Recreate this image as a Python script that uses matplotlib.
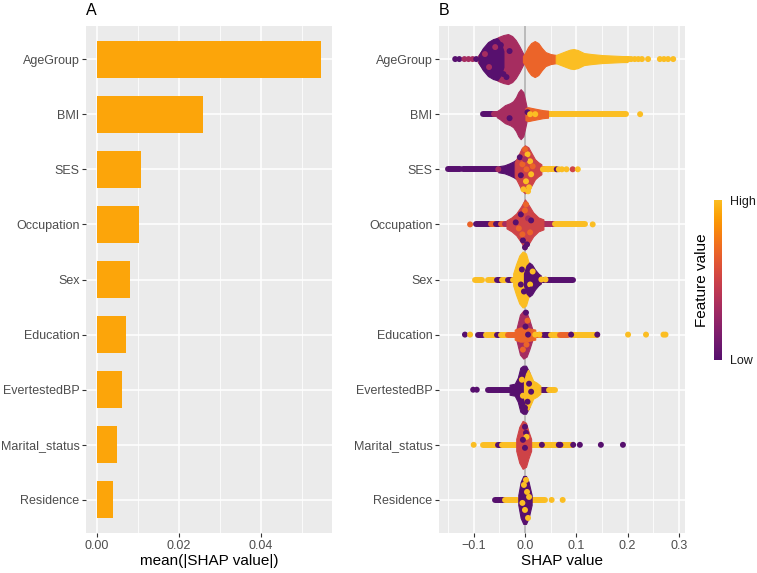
import numpy as np
import matplotlib
matplotlib.use("Agg")
import matplotlib.pyplot as plt
from matplotlib.colors import ListedColormap

plt.rcParams['font.family'] = ['Liberation Sans', 'DejaVu Sans']

# ---------------- data ----------------
features = ["AgeGroup", "BMI", "SES", "Occupation", "Sex", "Education",
            "EvertestedBP", "Marital_status", "Residence"]
mean_abs_shap = [0.0546, 0.0259, 0.0107, 0.0102, 0.0080, 0.0071, 0.0062, 0.0048, 0.0040]

# feature-value colour codes (0 = low, 1 = high)
P, M, R, O, Y = 0.0, 0.33, 0.5, 0.67, 1.0

# dense cores of the beeswarm: (colour, shap values, half-spread in px)
blobs = {
    "AgeGroup": [
        (M, [-0.092, -0.082, -0.072, -0.062, -0.052, -0.042, -0.033, -0.025, -0.018, -0.011, -0.006, -0.002],
            [3, 10, 15, 19, 22, 24, 25, 23, 19, 13, 8, 4]),
        (P, [-0.090, -0.082, -0.072, -0.062, -0.054, -0.047, -0.042], [4, 11, 17, 20, 21, 16, 8]),
        (O, [-0.004, 0.0, 0.006, 0.012, 0.019, 0.026, 0.033, 0.040, 0.050, 0.062],
            [3, 6, 12, 16, 18, 16, 11, 7, 5, 4]),
        (Y, [0.060, 0.070, 0.080, 0.088, 0.095, 0.103, 0.115, 0.130, 0.150, 0.170, 0.190, 0.200],
            [4, 6, 8, 9.5, 10, 9, 6, 5, 4, 3.5, 3, 3]),
    ],
    "BMI": [
        (M, [-0.055, -0.049, -0.039, -0.029, -0.023, -0.0175, -0.013, -0.0084, -0.0032, 0.0008, 0.0045],
            [3, 5, 9, 11, 13, 17, 22, 25, 22, 13, 4]),
        (O, [0.001, 0.006, 0.015, 0.025, 0.035, 0.045], [6, 7, 6, 5, 4, 3.5]),
    ],
    "SES": [
        (P, [-0.052, -0.040, -0.030, -0.022, -0.016], [3, 4, 6, 8, 10]),
        (R, [-0.020, -0.013, -0.0065, 0.0, 0.0065, 0.013, 0.0195, 0.026, 0.032],
            [7, 14, 21, 24, 22, 16, 10, 7, 5]),
    ],
    "Occupation": [
        (R, [-0.036, -0.026, -0.017, -0.0075, 0.0, 0.0065, 0.016, 0.026, 0.036],
            [4, 7, 11, 18, 25, 20, 12, 7, 5]),
    ],
    "Sex": [
        (Y, [-0.023, -0.0175, -0.011, -0.0045, 0.002, 0.0065, 0.011], [6, 15, 24, 28, 26, 18, 8]),
        (P, [-0.002, 0.003, 0.0084, 0.0136, 0.0195, 0.026, 0.031], [6, 14, 17, 15, 10, 6, 4]),
    ],
    "Education": [
        (M, [-0.017, -0.0097, -0.0032, 0.0032, 0.0084, 0.014], [5, 20, 24, 22, 15, 6]),
        (O, [-0.020, -0.010, 0.0, 0.010, 0.020], [5, 7, 7, 6, 5]),
    ],
    "EvertestedBP": [
        (P, [-0.030, -0.020, -0.014, -0.009, -0.004, 0.002, 0.008, 0.013], [5, 6, 12, 22, 24, 24, 18, 8]),
        (Y, [-0.002, 0.002, 0.006, 0.011, 0.016, 0.023, 0.030], [8, 16, 20, 15, 9, 7, 4]),
    ],
    "Marital_status": [
        (R, [-0.017, -0.011, -0.0045, 0.002, 0.0065, 0.012], [6, 18, 24, 22, 14, 6]),
    ],
    "Residence": [
        (P, [-0.013, -0.0084, -0.0032, 0.002, 0.0071, 0.013], [5, 18, 24, 24, 18, 5]),
    ],
}

# runs of touching points along the row: (from, to, colour)
bands = {
    "AgeGroup": [(0.190, 0.203, Y)],
    "BMI": [(-0.081, -0.060, P), (-0.060, -0.050, M), (0.030, 0.045, Y), (0.045, 0.197, Y)],
    "SES": [(-0.150, -0.126, P), (-0.121, -0.055, P), (0.026, 0.040, O), (0.040, 0.058, Y)],
    "Occupation": [(-0.095, -0.068, P), (-0.066, -0.058, O), (-0.056, -0.048, P), (-0.046, -0.040, O),
                   (-0.038, -0.030, M), (0.030, 0.040, P), (0.040, 0.057, M), (0.058, 0.118, Y)],
    "Sex": [(-0.097, -0.083, Y), (-0.072, -0.060, Y), (-0.054, -0.047, P), (-0.045, -0.039, Y),
            (-0.033, -0.026, P), (-0.024, -0.016, Y), (0.028, 0.094, P)],
    "Education": [(-0.092, -0.082, P), (-0.075, -0.059, Y), (-0.054, -0.050, P), (-0.046, -0.036, Y),
                  (-0.033, -0.013, O), (0.013, 0.036, O), (0.038, 0.048, P), (0.051, 0.065, Y),
                  (0.068, 0.084, O), (0.094, 0.140, Y)],
    "EvertestedBP": [(-0.072, -0.015, P), (0.030, 0.045, P), (0.047, 0.058, Y)],
    "Marital_status": [(-0.082, -0.056, Y), (-0.053, -0.047, P), (-0.045, -0.015, Y), (0.012, 0.092, Y)],
    "Residence": [(-0.058, -0.040, P), (-0.038, -0.015, Y), (0.013, 0.039, Y)],
}

# single points on the row: (shap value, colour)
dots = {
    "AgeGroup": [(-0.136, P), (-0.128, P), (-0.118, M), (-0.110, M), (-0.102, M), (-0.095, P),
                 (0.207, Y), (0.214, Y), (0.221, Y), (0.228, Y), (0.240, Y),
                 (0.263, Y), (0.271, Y), (0.279, Y), (0.289, Y)],
    "BMI": [(0.010, Y), (0.020, Y), (0.038, O), (0.2245, Y)],
    "SES": [(-0.052, M), (0.035, Y), (0.045, Y), (0.062, P), (0.066, Y), (0.072, Y), (0.081, Y),
            (0.093, R), (0.103, Y)],
    "Occupation": [(-0.107, O), (0.132, Y)],
    "Sex": [(0.032, Y), (0.040, Y)],
    "Education": [(-0.117, P), (-0.107, Y), (0.020, Y), (0.028, Y), (0.090, P), (0.141, P),
                  (0.201, Y), (0.236, Y), (0.270, Y), (0.274, Y)],
    "EvertestedBP": [(-0.101, P), (-0.094, P)],
    "Marital_status": [(-0.100, Y), (0.033, P), (0.066, P), (0.069, P), (0.094, P), (0.107, P),
                       (0.148, P), (0.191, P)],
    "Residence": [(0.052, Y), (0.0735, Y)],
}

# points inside the cores that show another colour: (shap value, offset px, colour)
speckles = {
    "AgeGroup": [(-0.078, 5, M), (-0.070, -8, M), (-0.058, 12, M), (-0.036, -18, P), (-0.042, -15, P),
                 (-0.047, 14, P), (-0.052, 0, P), (-0.030, 8, P)],
    "BMI": [(0.005, 2, P), (-0.030, -4, P), (-0.020, 3, M)],
    "SES": [(0.005, 15, Y), (0.010, 8, Y), (0.002, -12, Y), (0.008, -18, Y), (-0.005, 5, O), (0.0, 20, O),
            (-0.008, -6, P), (0.003, 0, O), (0.012, -5, Y), (0.015, 3, O), (-0.003, -20, Y),
            (0.006, -22, Y), (-0.010, 12, P), (0.0, 10, M)],
    "Occupation": [(-0.008, 10, P), (-0.004, -16, P), (0.004, -20, P), (0.0, -23, P), (0.002, 20, O),
                   (-0.012, -4, O), (0.010, -8, O), (0.006, 6, M), (-0.018, 2, P), (0.012, 4, P),
                   (0.0, 14, O), (-0.005, -10, O)],
    "Sex": [(0.010, -5, Y), (0.015, 8, Y), (-0.006, 10, P), (-0.002, -12, P), (-0.008, -5, P),
            (0.012, -10, P)],
    "Education": [(0.001, 8, P), (0.003, -10, O), (-0.004, -15, O), (0.005, 14, O), (0.002, 22, P),
                  (-0.008, 2, O), (0.006, 0, P)],
    "EvertestedBP": [(0.005, -12, P), (0.008, 6, P), (0.012, -2, P), (0.0, -18, P), (-0.006, 10, Y),
                     (-0.004, -6, Y)],
    "Marital_status": [(0.0, 18, P), (0.002, 12, P), (0.003, 8, Y), (0.0, -3, P), (-0.004, 5, P)],
    "Residence": [(-0.002, 15, Y), (0.004, 8, Y), (0.0, -10, Y), (0.006, -18, Y), (-0.005, -3, Y),
                  (0.008, 3, Y), (0.002, 20, Y)],
}

# ---------------- style ----------------
BG = "#EBEBEB"
BAR = "#FCA50A"
TICKC = "#4D4D4D"
cmap = ListedColormap(plt.get_cmap("inferno")(np.linspace(0.25, 0.85, 256)))
PX = 1 / 55.1          # one pixel in row units
DOT_D = 4.3            # point diameter (pt)
DOT_S = DOT_D ** 2

W, H = 757, 573
fig = plt.figure(figsize=(W / 100, H / 100), dpi=100)
axA = fig.add_axes([86 / W, 40 / H, 246 / W, 507 / H])
axB = fig.add_axes([439 / W, 40 / H, 246 / W, 507 / H])
cax = fig.add_axes([714 / W, (H - 360) / H, 8 / W, 160 / H])

n = len(features)
ypos = {f: n - i for i, f in enumerate(features)}


def gg(ax):
    ax.set_facecolor(BG)
    for s in ax.spines.values():
        s.set_visible(False)
    ax.set_axisbelow(True)
    ax.grid(True, which="major", color="white", lw=1.1)
    ax.grid(True, which="minor", axis="x", color="white", lw=0.55)
    ax.tick_params(which="major", length=2.9, width=0.8, color="#333333",
                   labelsize=9, labelcolor=TICKC, pad=1.8)
    ax.tick_params(which="minor", length=0)
    ax.set_ylim(0.4, n + 0.6)
    ax.set_yticks([ypos[f] for f in features])
    ax.set_yticklabels(features)


# ---- panel A ----
gg(axA)
axA.barh([ypos[f] for f in features], mean_abs_shap, height=0.67, color=BAR, zorder=2)
axA.set_xlim(-0.0027, 0.0574)
axA.set_xticks([0, 0.02, 0.04])
axA.set_xticklabels(["0.00", "0.02", "0.04"])
axA.set_xticks([0.01, 0.03, 0.05], minor=True)
axA.set_xlabel("mean(|SHAP value|)", fontsize=11, color="black", labelpad=2)

# ---- panel B ----
gg(axB)
axB.set_xlim(-0.1676, 0.312)
axB.set_xticks([-0.1, 0, 0.1, 0.2, 0.3])
axB.set_xticklabels(["\u22120.1", "0.0", "0.1", "0.2", "0.3"])
axB.set_xticks([-0.15, -0.05, 0.05, 0.15, 0.25], minor=True)
axB.axvline(0, color="#A9A9A9", lw=1.1, zorder=1.5)
axB.set_xlabel("SHAP value", fontsize=11, color="black", labelpad=2)

for f in features:
    y = ypos[f]
    for x0, x1, c in bands[f]:
        axB.plot([x0, x1], [y, y], lw=DOT_D, color=cmap(c), solid_capstyle="round", zorder=3)
    for c, xs, hs in blobs[f]:
        h = np.array(hs) * PX
        axB.fill_between(xs, y - h, y + h, color=cmap(c), lw=0.8, edgecolor=cmap(c), zorder=3.5)
    if speckles[f]:
        sx = [s[0] for s in speckles[f]]
        sy = [y + s[1] * PX for s in speckles[f]]
        sc = [cmap(s[2]) for s in speckles[f]]
        axB.scatter(sx, sy, s=DOT_S, c=sc, lw=0, zorder=4)
    if dots[f]:
        dx = [d[0] for d in dots[f]]
        dc = [cmap(d[1]) for d in dots[f]]
        axB.scatter(dx, [y] * len(dx), s=DOT_S, c=dc, lw=0, zorder=4)

# ---- colour bar ----
cax.imshow(np.linspace(0, 1, 256)[:, None], aspect="auto", cmap=cmap, origin="lower")
cax.set_axis_off()
fig.text(730 / W, 1 - 202 / H, "High", fontsize=9, va="center", ha="left", color="#1A1A1A")
fig.text(730 / W, 1 - 361 / H, "Low", fontsize=9, va="center", ha="left", color="#1A1A1A")
fig.text(702 / W, 1 - 280 / H, "Feature value", fontsize=11, rotation=90, va="center", ha="center")

# ---- tags ----
fig.text(86 / W, 1 - 15 / H, "A", fontsize=11.5, va="baseline", ha="left")
fig.text(439 / W, 1 - 15 / H, "B", fontsize=11.5, va="baseline", ha="left")

fig.savefig("out.png", dpi=100)
